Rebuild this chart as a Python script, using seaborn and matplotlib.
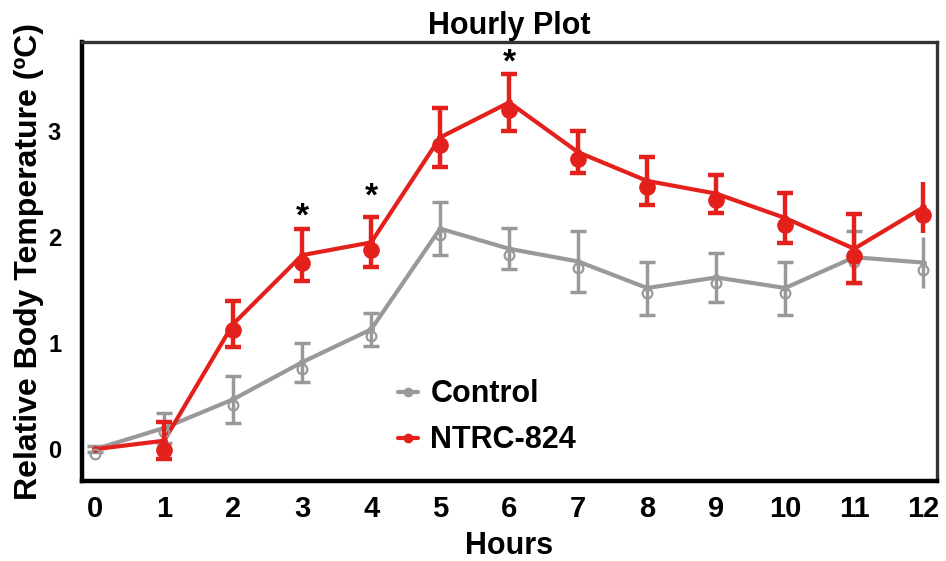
import matplotlib
matplotlib.use("Agg")
import matplotlib.pyplot as plt
import seaborn as sns
import pandas as pd
import numpy as np
from matplotlib.lines import Line2D

hours = list(range(13))
ctrl_line = [0.0, 0.20, 0.47, 0.82, 1.13, 2.08, 1.89, 1.77, 1.52, 1.62, 1.52, 1.81, 1.76]
ctrl_pt = [-0.05, 0.16, 0.42, 0.76, 1.07, 2.02, 1.83, 1.71, 1.47, 1.57, 1.47, 1.77, 1.69]
ctrl_err = [0.03, 0.14, 0.22, 0.185, 0.155, 0.25, 0.195, 0.285, 0.25, 0.23, 0.25, 0.245, 0.24]
ntrc_line = [0.0, 0.08, 1.18, 1.83, 1.95, 2.94, 3.27, 2.80, 2.53, 2.41, 2.18, 1.89, 2.28]
ntrc_pt = [0.0, -0.01, 1.12, 1.76, 1.88, 2.87, 3.20, 2.74, 2.47, 2.35, 2.11, 1.82, 2.21]
ntrc_err = [0.0, 0.175, 0.22, 0.245, 0.235, 0.28, 0.27, 0.2, 0.23, 0.18, 0.24, 0.325, 0.24]
sig_hours = [3, 4, 6]
sig_y = [2.19, 2.38, 3.64]

RED = "#E3201B"
GRAY = "#999999"

sns.set_style("white")
plt.rcParams['font.family'] = ['Liberation Sans', 'DejaVu Sans']
plt.rcParams['font.weight'] = 'bold'
plt.rcParams['text.color'] = 'black'
plt.rcParams['axes.labelcolor'] = 'black'
plt.rcParams['xtick.labelcolor'] = 'black'
plt.rcParams['ytick.labelcolor'] = 'black'

fig = plt.figure(figsize=(9.46, 5.61), dpi=100)
ax = fig.add_axes([82/946, 1-481/561, (937-82)/946, (481-42)/561])

df = pd.DataFrame({
    "Hours": hours * 2,
    "Temp": ctrl_line + ntrc_line,
    "Group": ["Control"] * 13 + ["NTRC-824"] * 13,
})
sns.lineplot(data=df, x="Hours", y="Temp", hue="Group",
             palette={"Control": GRAY, "NTRC-824": RED},
             linewidth=3.0, marker="o", markersize=5, markeredgewidth=0,
             legend=False, ax=ax, zorder=3)

h = np.array(hours)
n = len(hours) - 1
# control error bars + open markers
ax.errorbar(h[:n], np.array(ctrl_line)[:n], yerr=np.array(ctrl_err)[:n], fmt="none",
            ecolor=GRAY, elinewidth=2.5, capsize=6, capthick=2.5, zorder=2)
ax.errorbar(h[n:], np.array(ctrl_line)[n:], yerr=np.array(ctrl_err)[n:], fmt="none",
            ecolor=GRAY, elinewidth=2.5, capsize=0, zorder=2)
ax.plot(h, ctrl_pt, linestyle="none", marker="o", markersize=7,
        markerfacecolor="none", markeredgecolor=GRAY, markeredgewidth=1.6, zorder=4)
# NTRC error bars + filled markers
ax.errorbar(h[1:n], np.array(ntrc_line)[1:n], yerr=np.array(ntrc_err)[1:n], fmt="none",
            ecolor=RED, elinewidth=3.2, capsize=6, capthick=3.2, zorder=5)
ax.errorbar(h[n:], np.array(ntrc_line)[n:], yerr=np.array(ntrc_err)[n:], fmt="none",
            ecolor=RED, elinewidth=3.2, capsize=0, zorder=5)
ax.plot(h[1:], ntrc_pt[1:], linestyle="none", marker="o", markersize=11,
        markerfacecolor=RED, markeredgecolor=RED, zorder=6)

for xh, ys in zip(sig_hours, sig_y):
    ax.text(xh, ys, "*", ha="center", va="center", fontsize=24, fontweight="bold", color="black")

ax.set_xlim(-0.19, 12.2)
ax.set_ylim(-0.30, 3.84)
ax.set_xticks(hours)
ax.set_xticklabels([str(v) for v in hours])
ax.set_yticks([0, 1, 2, 3])
ax.tick_params(axis="x", labelsize=21, length=4, width=2, color="#333333", pad=6, direction="out")
ax.tick_params(axis="y", labelsize=17, length=3, width=2, color="#333333", pad=12, direction="out")
for lab in ax.get_xticklabels() + ax.get_yticklabels():
    lab.set_fontweight("bold")

for side in ["left", "bottom"]:
    ax.spines[side].set_color("black")
    ax.spines[side].set_linewidth(3.2)
for side in ["top", "right"]:
    ax.spines[side].set_color("#333333")
    ax.spines[side].set_linewidth(2.4)
    ax.spines[side].set_visible(True)

ax.set_title("Hourly Plot", fontsize=22, fontweight="bold", pad=6, color="black")
ax.set_xlabel("Hours", fontsize=22, fontweight="bold", labelpad=6)
ax.set_ylabel("Relative Body Temperature (\u00baC)", fontsize=23, fontweight="bold", labelpad=3)

handles = [Line2D([0], [0], color=GRAY, lw=3, marker="o", markersize=6),
           Line2D([0], [0], color=RED, lw=3, marker="o", markersize=6)]
ax.legend(handles, ["Control", "NTRC-824"], loc="upper left",
          bbox_to_anchor=((386 - 82) / 855, (481 - 367) / 439), frameon=False,
          prop={"weight": "bold", "size": 22}, handlelength=0.65, handletextpad=0.4,
          labelspacing=0.53, borderaxespad=0)

fig.savefig("out.png", dpi=100)
